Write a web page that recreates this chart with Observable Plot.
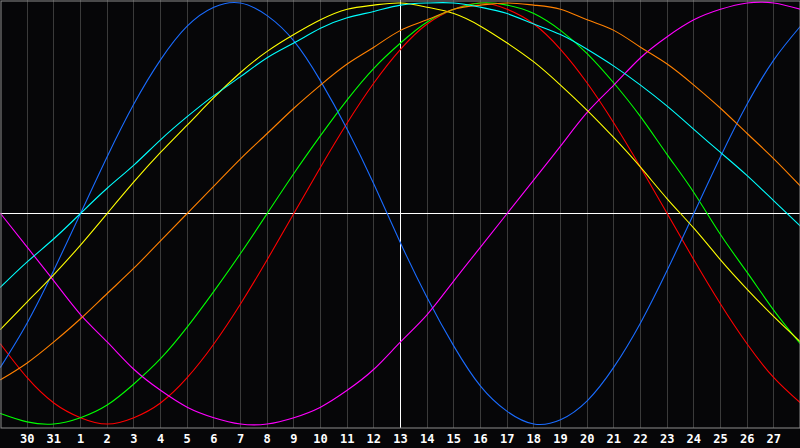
<!DOCTYPE html>
<html><head><meta charset="utf-8">
<script src="https://cdn.jsdelivr.net/npm/d3@7"></script>
<script src="https://cdn.jsdelivr.net/npm/@observablehq/plot@0.6"></script>
<style>html,body{margin:0;padding:0;background:#060608;overflow:hidden}svg{display:block}</style>
</head><body><div id="chart"></div><script>
// day labels for positions 0..30 (edges 0 and 30 are not labelled)
const dayLabels = ["29","30","31","1","2","3","4","5","6","7","8","9","10","11","12","13","14","15","16","17","18","19","20","21","22","23","24","25","26","27","28"];
const todayIndex = 15;

const seriesNames  = ["emotional","intellectual","physical","intuitive","aesthetic","awareness","spiritual"];
const seriesColors = ["#ff0000","#00ff00","#1a6cff","#ff00ff","#ffff00","#ff8000","#00ffff"];

const emotional    = [-0.62,-0.78,-0.90,-0.97,-1.00,-0.97,-0.90,-0.78,-0.62,-0.43,-0.22,0,0.22,0.43,0.62,0.78,0.90,0.97,1.00,0.97,0.90,0.78,0.62,0.43,0.22,0,-0.22,-0.43,-0.62,-0.78,-0.90];
const intellectual = [-0.95,-0.99,-1.00,-0.97,-0.91,-0.81,-0.69,-0.54,-0.37,-0.19,0,0.19,0.37,0.54,0.69,0.81,0.91,0.97,1.00,0.99,0.95,0.87,0.76,0.62,0.46,0.28,0.10,-0.10,-0.28,-0.46,-0.62];
const physical     = [-0.73,-0.52,-0.27,0,0.27,0.52,0.73,0.89,0.98,1.00,0.94,0.82,0.63,0.40,0.14,-0.14,-0.40,-0.63,-0.82,-0.94,-1.00,-0.98,-0.89,-0.73,-0.52,-0.27,0,0.27,0.52,0.73,0.89];
const intuitive    = [0,-0.16,-0.32,-0.48,-0.61,-0.74,-0.84,-0.92,-0.97,-1.00,-1.00,-0.97,-0.92,-0.84,-0.74,-0.61,-0.48,-0.32,-0.16,0,0.16,0.32,0.48,0.61,0.74,0.84,0.92,0.97,1.00,1.00,0.97];
const aesthetic    = [-0.55,-0.42,-0.29,-0.15,0,0.15,0.29,0.42,0.55,0.67,0.77,0.85,0.92,0.97,0.99,1.00,0.98,0.95,0.89,0.81,0.72,0.61,0.49,0.36,0.22,0.07,-0.07,-0.22,-0.36,-0.49,-0.61];
const awareness    = [-0.79,-0.71,-0.61,-0.50,-0.38,-0.26,-0.13,0,0.13,0.26,0.38,0.50,0.61,0.71,0.79,0.87,0.92,0.97,0.99,1.00,0.99,0.97,0.92,0.87,0.79,0.71,0.61,0.50,0.38,0.26,0.13];
const spiritual    = [-0.35,-0.23,-0.12,0,0.12,0.23,0.35,0.46,0.56,0.65,0.74,0.81,0.88,0.93,0.96,0.99,1.00,1.00,0.98,0.95,0.90,0.85,0.78,0.70,0.61,0.51,0.40,0.29,0.18,0.06,-0.06];

const seriesValues = [emotional, intellectual, physical, intuitive, aesthetic, awareness, spiritual];

const rows = [];
seriesNames.forEach((name, s) => {
  seriesValues[s].forEach((v, i) => rows.push({series: name, i, v}));
});
const gridIdx = d3.range(1, dayLabels.length - 1);

const chart = Plot.plot({
  width: 800,
  height: 448,
  marginTop: 0,
  marginLeft: 0,
  marginRight: 0,
  marginBottom: 20,
  style: {background: "#060608", color: "white", overflow: "visible"},
  x: {domain: [0, dayLabels.length - 1], range: [0, 800], axis: null},
  y: {domain: [-1, 1], range: [423.5, 2.5], axis: null},
  color: {domain: seriesNames, range: seriesColors},
  marks: [
    Plot.ruleX(gridIdx, {stroke: "#3a3a3a", strokeWidth: 1, shapeRendering: "crispEdges"}),
    Plot.ruleX([todayIndex], {stroke: "white", strokeWidth: 1, shapeRendering: "crispEdges"}),
    Plot.ruleY([0], {stroke: "white", strokeWidth: 1, shapeRendering: "crispEdges"}),
    Plot.line(rows, {x: "i", y: "v", z: "series", stroke: "series", curve: "natural", strokeWidth: 1.1}),
    Plot.frame({stroke: "#8c8c8c", inset: 0.5}),
    Plot.axisX(gridIdx, {
      anchor: "bottom",
      tickSize: 0,
      tickPadding: 6,
      tickFormat: i => dayLabels[i],
      fill: "white",
      fontSize: 12,
      fontWeight: "bold",
      fontFamily: "DejaVu Sans Mono",
      label: null
    })
  ]
});
document.getElementById("chart").append(chart);
</script></body></html>
